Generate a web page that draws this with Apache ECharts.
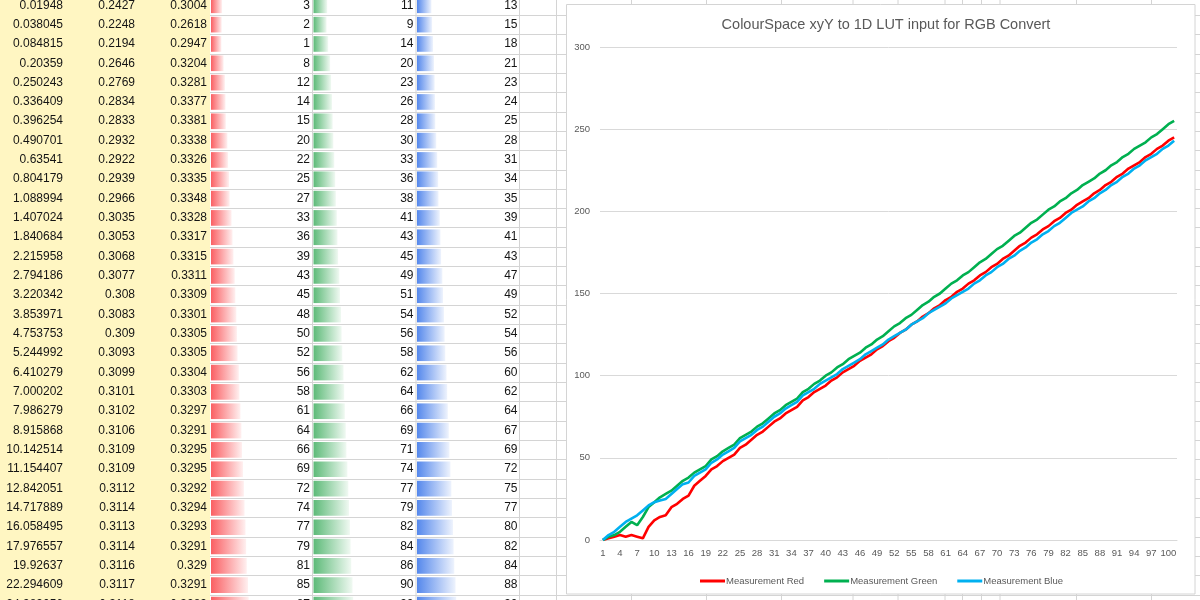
<!DOCTYPE html>
<html><head><meta charset="utf-8">
<script src="https://cdn.jsdelivr.net/npm/echarts@6/dist/echarts.min.js"></script>
<style>html,body{margin:0;padding:0;background:#fff}#c{width:1200px;height:600px}</style>
</head><body><div id="c"></div>
<script>
// ---------- data ----------
const categories = Array.from({length: 101}, (_, i) => String(i + 1));

const measRed = [0,1,2,3,2,
  3,2,1,8,12,14,15,20,22,25,27,33,36,39,43,45,48,50,52,56,58,61,64,66,69,72,74,77,79,81,85,87,
  90,92,94,97,99,102,104,106,109,111,113,
  116,118,121,123,126,128,131,133,136,138,141,143,146,148,151,153,
  156,158,161,163,166,168,171,173,176,179,181,184,186,189,191,194,196,199,201,
  204,206,208,211,213,216,218,221,223,226,228,230,233,235,238,240,243,245];

const measGreen = [0,2,3,5,8,
  11,9,14,20,23,26,28,30,33,36,38,41,43,45,49,51,54,56,58,62,64,66,69,71,74,77,79,82,84,86,90,92,
  95,97,100,102,105,107,110,112,114,117,119,
  122,124,127,130,132,135,137,140,143,145,148,150,153,156,158,161,
  163,166,169,171,174,177,179,182,185,187,190,193,195,198,201,
  203,206,208,211,213,216,218,220,223,225,228,230,233,235,238,240,242,245,247,250,253,255];

const measBlue = [0,3,5,8,11,
  13,15,18,21,23,24,25,28,31,34,35,39,41,43,47,49,52,54,56,60,62,64,67,69,72,75,77,80,82,84,88,90,
  92,95,97,99,101,104,106,108,110,113,115,
  117,119,122,124,126,128,131,133,135,138,140,142,144,147,149,151,
  153,156,158,161,163,166,168,171,173,176,178,181,183,186,188,191,193,196,199,
  201,203,206,208,211,213,216,218,221,223,226,228,231,233,235,238,240,243];

// spreadsheet columns (visible rows correspond to categories 6..37)
const tableLumY = ["0.01948","0.038045","0.084815","0.20359","0.250243","0.336409","0.396254","0.490701","0.63541","0.804179","1.088994","1.407024","1.840684","2.215958","2.794186","3.220342","3.853971","4.753753","5.244992","6.410279","7.000202","7.986279","8.915868","10.142514","11.154407","12.842051","14.717889","16.058495","17.976557","19.92637","22.294609","24.989056"];
const tableX = ["0.2427","0.2248","0.2194","0.2646","0.2769","0.2834","0.2833","0.2932","0.2922","0.2939","0.2966","0.3035","0.3053","0.3068","0.3077","0.308","0.3083","0.309","0.3093","0.3099","0.3101","0.3102","0.3106","0.3109","0.3109","0.3112","0.3114","0.3113","0.3114","0.3116","0.3117","0.3118"];
const tableY = ["0.3004","0.2618","0.2947","0.3204","0.3281","0.3377","0.3381","0.3338","0.3326","0.3335","0.3348","0.3328","0.3317","0.3315","0.3311","0.3309","0.3301","0.3305","0.3305","0.3304","0.3303","0.3297","0.3291","0.3295","0.3295","0.3292","0.3294","0.3293","0.3291","0.329","0.3291","0.3289"];
const FIRST_ROW = 5;
const tableRed = measRed.slice(FIRST_ROW, FIRST_ROW + tableLumY.length);
const tableGreen = measGreen.slice(FIRST_ROW, FIRST_ROW + tableLumY.length);
const tableBlue = measBlue.slice(FIRST_ROW, FIRST_ROW + tableLumY.length);

// ---------- layout ----------
const ROW_H = 19.33, ROW0_CENTER = 5.2;
const ROW_MIN = -ROW0_CENTER / ROW_H, ROW_MAX = ROW_MIN + 600 / ROW_H;
const CELL_FONT = 'Liberation Sans';
const DATA_MAX = 255;                 // Excel data bar: 10% min length, 90% max length
const BAR_MIN = -DATA_MAX * 0.125, BAR_MAX = DATA_MAX * 1.125;

const chart = echarts.init(document.getElementById('c'), null, {renderer: 'canvas'});

function rowGrid(left, width) { return {left: left, width: width, top: 0, height: 600}; }
const grids = [
  {left: 600, right: 23, top: 47, bottom: 60},  // 0 chart
  rowGrid(210, 990),                            // 1 sheet lines
  rowGrid(0, 66), rowGrid(66, 72), rowGrid(138, 72), // 2-4 text columns
  rowGrid(211, 101), rowGrid(313.5, 102), rowGrid(417, 102.5) // 5-7 data bars
];

const xAxes = [{
  type: 'category', gridIndex: 0, data: categories, z: 4,
  axisLine: {lineStyle: {color: '#D9D9D9'}}, axisTick: {show: false},
  axisLabel: {interval: 2, color: '#595959', fontSize: 9.5, fontFamily: CELL_FONT, margin: 8}
}];
const yAxes = [{
  type: 'value', gridIndex: 0, min: 0, max: 300, interval: 50, z: 4,
  axisLine: {show: false}, axisTick: {show: false},
  axisLabel: {color: '#595959', fontSize: 9.5, fontFamily: CELL_FONT, margin: 10},
  splitLine: {lineStyle: {color: '#D9D9D9', width: 1}}
}];
for (let g = 1; g < grids.length; g++) {
  const isBar = g >= 5;
  xAxes.push({type: 'value', gridIndex: g, min: isBar ? BAR_MIN : 0, max: isBar ? BAR_MAX : 1, show: false});
  yAxes.push({type: 'value', gridIndex: g, min: ROW_MIN, max: ROW_MAX, inverse: true, show: false});
}

const sheetLines = {
  type: 'custom', xAxisIndex: 1, yAxisIndex: 1, z: 0, silent: true, clip: false,
  data: tableLumY.map((v, i) => [0, i]),
  encode: {x: 0, y: 1},
  renderItem: (params, api) => {
    const a = api.coord([0, api.value(1) + 0.5]), b = api.coord([1, api.value(1) + 0.5]);
    const y = Math.round(a[1]) + 0.5;
    return {type: 'line', shape: {x1: a[0], y1: y, x2: b[0], y2: y}, style: {stroke: '#D4D4D4', lineWidth: 1}};
  }
};
function textColumn(gridIdx, values) {
  return {
    type: 'custom', xAxisIndex: gridIdx, yAxisIndex: gridIdx, z: 2, silent: true, clip: false,
    data: values.map((v, i) => [1, i]),
    encode: {x: 0, y: 1},
    renderItem: (params, api) => {
      const p = api.coord([1, api.value(1)]);
      return {type: 'text', x: p[0] - 3, y: p[1],
        style: {text: values[params.dataIndex], align: 'right', verticalAlign: 'middle',
                fontSize: 12, fontFamily: CELL_FONT, fill: '#141414'}};
    }
  };
}
function barColumn(gridIdx, values, color, fade) {
  return {
    type: 'custom', xAxisIndex: gridIdx, yAxisIndex: gridIdx, z: 2, silent: true, clip: false,
    data: values.map((v, i) => [v, i]),
    encode: {x: 0, y: 1},
    renderItem: (params, api) => {
      const v = api.value(0), r = api.value(1);
      const s = api.coord([BAR_MIN, r]), e = api.coord([v, r]), t = api.coord([BAR_MAX, r]);
      const h = api.size([0, 1])[1];
      return {type: 'group', children: [
        {type: 'rect', shape: {x: s[0], y: e[1] - h * 0.40, width: e[0] - s[0], height: h * 0.81},
         style: {fill: {type: 'linear', x: 0, y: 0, x2: 1, y2: 0,
           colorStops: [{offset: 0, color: color}, {offset: 1, color: fade}]}}},
        {type: 'text', x: t[0] - 2, y: e[1],
         style: {text: String(v), align: 'right', verticalAlign: 'middle',
                 fontSize: 12, fontFamily: CELL_FONT, fill: '#141414'}}
      ]};
    }
  };
}

const sepX = [312.5, 416, 519.5, 556.5, 631.5, 706.5, 781.5, 853, 898, 945, 962.5, 981.5, 1000, 1076.5, 1151.5];
const graphicEls = [
  {type: 'rect', shape: {x: 0, y: 0, width: 210, height: 600}, style: {fill: '#FFF6C2'}, z: -1, silent: true}
].concat(sepX.map(x => ({type: 'line', shape: {x1: x, y1: 0, x2: x, y2: 600},
  style: {stroke: '#D4D4D4', lineWidth: 1}, z: 1, silent: true})))
 .concat([{type: 'rect', shape: {x: 566.5, y: 4.5, width: 628.5, height: 589.5},
  style: {fill: '#FFFFFF', stroke: '#D4D4D4', lineWidth: 1}, z: 3, silent: true}]);

function lineSeries(name, data, color) {
  return {name: name, type: 'line', xAxisIndex: 0, yAxisIndex: 0, data: data, z: 5,
    showSymbol: false, symbol: 'none', smooth: false,
    lineStyle: {color: color, width: 2.6}, itemStyle: {color: color}};
}

chart.setOption({
  animation: false,
  backgroundColor: '#FFFFFF',
  title: {text: 'ColourSpace xyY to 1D LUT input for RGB Convert', left: 881, top: 12, textAlign: 'center',
    textStyle: {fontSize: 14.5, fontWeight: 'normal', color: '#595959', fontFamily: CELL_FONT}},
  legend: {left: 695, top: 571, icon: 'rect', itemWidth: 25, itemHeight: 3, itemGap: 20,
    data: ['Measurement Red', 'Measurement Green', 'Measurement Blue'],
    textStyle: {fontSize: 9.5, color: '#595959', fontFamily: CELL_FONT, padding: [0, 0, 0, -4]}},
  graphic: {elements: graphicEls},
  grid: grids,
  xAxis: xAxes,
  yAxis: yAxes,
  series: [
    sheetLines,
    textColumn(2, tableLumY), textColumn(3, tableX), textColumn(4, tableY),
    barColumn(5, tableRed, '#FA5F63', '#FFF0F0'),
    barColumn(6, tableGreen, '#5DBA78', '#F0F9F2'),
    barColumn(7, tableBlue, '#5588EC', '#EEF3FD'),
    lineSeries('Measurement Red', measRed, '#FF0000'),
    lineSeries('Measurement Green', measGreen, '#00B050'),
    lineSeries('Measurement Blue', measBlue, '#00B0F0')
  ]
});
</script></body></html>
